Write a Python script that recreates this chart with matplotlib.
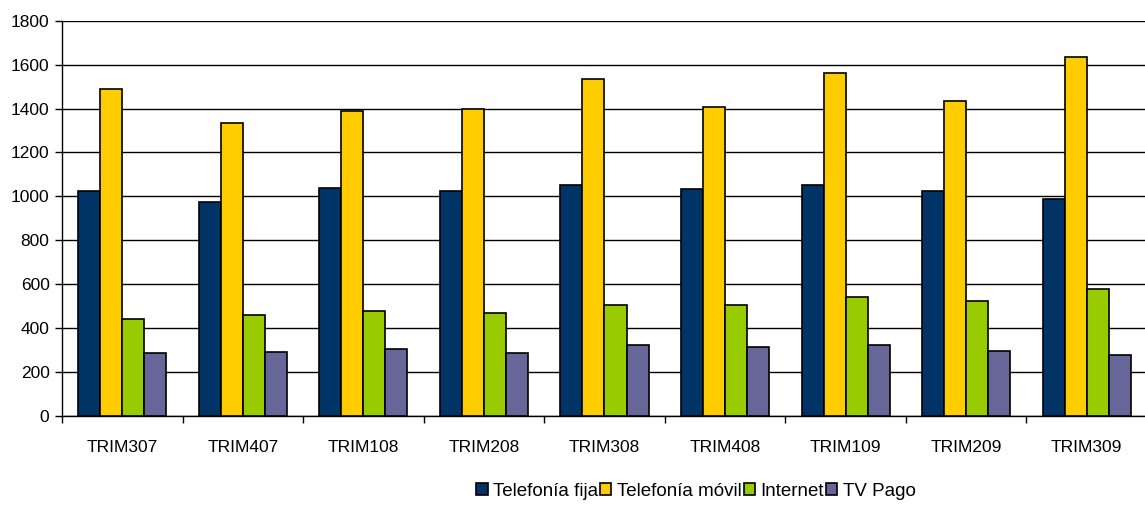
import numpy as np
import matplotlib
matplotlib.use('Agg')
import matplotlib.pyplot as plt

plt.rcParams['font.family'] = ['Liberation Sans', 'DejaVu Sans']

# datos
trimestres = ['TRIM307', 'TRIM407', 'TRIM108', 'TRIM208', 'TRIM308',
              'TRIM408', 'TRIM109', 'TRIM209', 'TRIM309']
fija = [1026, 973, 1037, 1026, 1052, 1034, 1052, 1025, 988]
movil = [1489, 1336, 1390, 1397, 1536, 1407, 1563, 1436, 1635]
internet = [442, 461, 480, 470, 505, 505, 542, 524, 578]
tv_pago = [288, 290, 307, 288, 323, 316, 323, 297, 278]

series = [('Telefonía fija', fija, '#003366'),
          ('Telefonía móvil', movil, '#FFCC00'),
          ('Internet', internet, '#99CC00'),
          ('TV Pago', tv_pago, '#666699')]

fig = plt.figure(figsize=(11.45, 5.07), dpi=100)
ax = fig.add_axes([62 / 1145, 91 / 507, 1085 / 1145, 395.3 / 507])

x = np.arange(len(trimestres))
w = 0.73 / 4
for i, (name, vals, col) in enumerate(series):
    ax.bar(x - 0.365 + w * (i + 0.5), vals, w, color=col,
           edgecolor='black', linewidth=1.2, label=name, zorder=3)

ax.set_xlim(-0.5, len(trimestres) - 0.5)
ax.set_ylim(0, 1800)
ax.set_yticks(range(0, 1801, 200))
ax.yaxis.grid(True, color='black', linewidth=1)
ax.set_axisbelow(True)

# ticks en los limites de categoria
ax.set_xticks(np.arange(len(trimestres) + 1) - 0.5)
ax.set_xticklabels([])
ax.set_xticks(x, minor=True)
ax.set_xticklabels(trimestres, minor=True, fontsize=12.5)
ax.tick_params(axis='x', which='minor', length=0, pad=17)
ax.tick_params(axis='x', which='major', length=5, width=1)
ax.tick_params(axis='y', length=5, width=1, labelsize=12.5, pad=4)

for s in ['top', 'right']:
    ax.spines[s].set_visible(False)
ax.spines['left'].set_linewidth(1)
ax.spines['bottom'].set_linewidth(1)

fig.legend(loc='center', bbox_to_anchor=(696 / 1145, 1 - 491 / 507),
           ncol=4, frameon=False, fontsize=13.5, handlelength=0.6,
           handleheight=0.6, handletextpad=0.3, columnspacing=0.1,
           borderpad=0)

fig.savefig('out.png', dpi=100)
